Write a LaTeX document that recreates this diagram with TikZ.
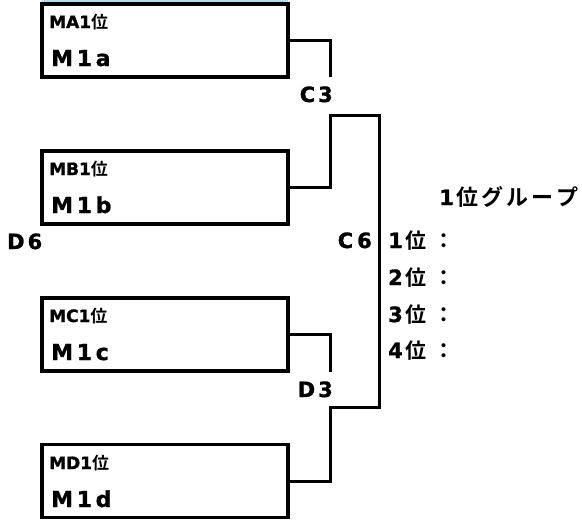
\documentclass[tikz,border=0pt]{standalone}
\usepackage{fontspec}
\setmainfont{DejaVu Sans}[BoldFeatures={FakeBold=1.2}]
\newfontfamily\jpfont{Noto Sans CJK JP}[BoldFont={Noto Sans CJK JP Bold}]
\usepackage{xcolor}
\usetikzlibrary{positioning,calc}
\definecolor{ink}{HTML}{000000}
\definecolor{strip}{HTML}{B7D9E6}
\tikzset{
  teambox/.style={draw=ink, line width=3.3pt, rectangle, minimum width=246pt, minimum height=73pt, inner sep=0pt},
  poolname/.style={text=ink, font=\bfseries\fontsize{17}{20}\selectfont, anchor=base west, inner sep=0pt},
  teamname/.style={text=ink, font=\bfseries\fontsize{22}{26}\selectfont, anchor=base west, inner sep=0pt},
  gamelabel/.style={text=ink, font=\bfseries\fontsize{21}{24}\selectfont, inner sep=0pt},
  ranklabel/.style={text=ink, font=\bfseries\fontsize{21}{24}\selectfont, anchor=base west, inner sep=0pt},
  bracket/.style={draw=ink, line width=3pt}
}

\begin{document}
\begin{tikzpicture}[x=1pt, y=-1pt]
  \useasboundingbox (0,0) rectangle (582,520);
  \fill[strip] (42,0) rectangle (288,2.5);

  % team boxes
  \node[teambox] (boxA) at (165,40.5) {};
  \node[teambox] (boxB) at (165,187.5) {};
  \node[teambox] (boxC) at (165,334.5) {};
  \node[teambox] (boxD) at (165,481) {};

  \node[poolname] (poolA) at (49,28) {MA1{\jpfont 位}};
  \node[teamname] (teamA) at (51,66) {M\,1\,a};
  \node[poolname] (poolB) at (49,175) {MB1{\jpfont 位}};
  \node[teamname] (teamB) at (51,213) {M\,1\,b};
  \node[poolname] (poolC) at (49,322) {MC1{\jpfont 位}};
  \node[teamname] (teamC) at (51,360) {M\,1\,c};
  \node[poolname] (poolD) at (49,469) {MD1{\jpfont 位}};
  \node[teamname] (teamD) at (51,507) {M\,1\,d};

  % game labels
  \node[gamelabel, anchor=base east] (gC3) at (333,102) {C\hspace{3pt}3};
  \node[gamelabel, anchor=base east] (gD3) at (333,397) {D\hspace{3pt}3};
  \node[gamelabel, anchor=base east] (gC6) at (372,248) {C\hspace{4pt}6};
  \node[gamelabel, anchor=base west] (gD6) at (7,249) {D\hspace{3pt}6};

  % final ranking
  \node[ranklabel] (rankhead) at (439,205)
    {1\hspace{3pt}{\jpfont\fontsize{22}{24}\selectfont 位\kern3pt グ\kern3pt ル\kern3pt ー\kern3pt プ}};
  \node[ranklabel] (rank1) at (388,248) {1\hspace{3pt}{\jpfont 位\hspace{7pt}：}};
  \node[ranklabel] (rank2) at (388,285) {2\hspace{3pt}{\jpfont 位\hspace{7pt}：}};
  \node[ranklabel] (rank3) at (388,322) {3\hspace{3pt}{\jpfont 位\hspace{7pt}：}};
  \node[ranklabel] (rank4) at (388,358) {4\hspace{3pt}{\jpfont 位\hspace{7pt}：}};

  % bracket lines
  \coordinate (endA) at (330,77);
  \coordinate (endC) at (330,372);
  \draw[bracket] (boxA.east) -| (endA);
  \draw[bracket] (boxC.east) -| (endC);
  \draw[bracket] (boxB.east) -| (330,115) -| (379,260) |- (330,407) |- (boxD.east);
\end{tikzpicture}
\end{document}
